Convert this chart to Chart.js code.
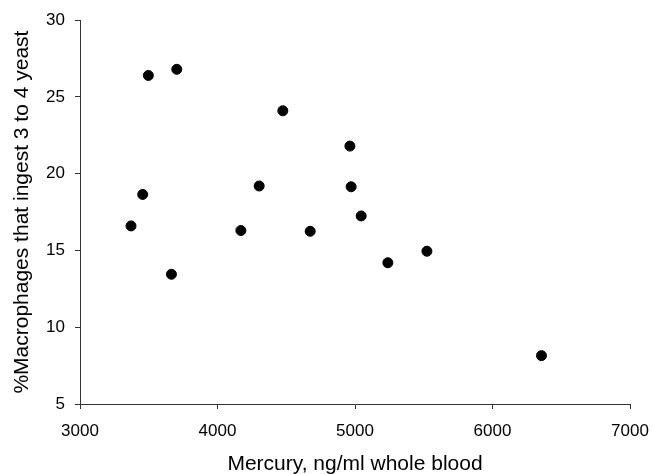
<!DOCTYPE html>
<html>
<head>
<meta charset="utf-8">
<script src="https://cdn.jsdelivr.net/npm/chart.js@4"></script>
<style>
  html, body { margin: 0; padding: 0; background: #fff; }
  #wrap { width: 653px; height: 474px; }
</style>
</head>
<body>
<div id="wrap"><canvas id="chart"></canvas></div>
<script>
const mercury = [3371, 3456, 3497, 3704, 4475, 4303, 4170, 4674, 3665, 4963, 4972, 5045, 5239, 5523, 6356];
const macrophages = [16.6, 18.65, 26.4, 26.8, 24.1, 19.2, 16.3, 16.25, 13.45, 21.8, 19.15, 17.25, 14.2, 14.95, 8.15];
const xTicks = [3000, 4000, 5000, 6000, 7000];
const yTicks = [5, 10, 15, 20, 25, 30];

const points = mercury.map((x, i) => ({ x, y: macrophages[i] }));
const font = 'Liberation Sans, Arial, sans-serif';

new Chart(document.getElementById('chart'), {
  type: 'scatter',
  data: {
    datasets: [{
      data: points,
      backgroundColor: '#000',
      borderColor: '#000',
      pointRadius: 5,
      pointHoverRadius: 5
    }]
  },
  options: {
    responsive: true,
    maintainAspectRatio: false,
    animation: false,
    layout: { padding: { top: 19, right: 23, left: 0, bottom: 0 } },
    plugins: { legend: { display: false }, tooltip: { enabled: false } },
    scales: {
      x: {
        type: 'linear',
        min: 3000,
        max: 7000,
        afterBuildTicks: s => { s.ticks = xTicks.map(v => ({ value: v })); },
        afterFit: s => { s.height = 70; s.paddingLeft = 0; s.paddingRight = 0; },
        grid: { drawOnChartArea: false, drawTicks: true, tickLength: 5, color: '#333' },
        border: { display: true, color: '#333', width: 1 },
        ticks: { color: '#000', font: { family: font, size: 17 }, padding: 12, maxRotation: 0, callback: v => String(v) },
        title: { display: true, text: 'Mercury, ng/ml whole blood', color: '#000', font: { family: font, size: 21 }, padding: { top: 4, bottom: -3 } }
      },
      y: {
        type: 'linear',
        min: 5,
        max: 30,
        afterBuildTicks: s => { s.ticks = yTicks.map(v => ({ value: v })); },
        afterFit: s => { s.width = 80; },
        grid: { drawOnChartArea: false, drawTicks: true, tickLength: 5, color: '#333' },
        border: { display: true, color: '#333', width: 1 },
        ticks: { color: '#000', font: { family: font, size: 17 }, padding: 10, callback: v => String(v) },
        title: { display: true, text: '%Macrophages that ingest 3 to 4 yeast', color: '#000', font: { family: font, size: 21 }, padding: { top: 10, bottom: 0 } }
      }
    }
  }
});
</script>
</body>
</html>
